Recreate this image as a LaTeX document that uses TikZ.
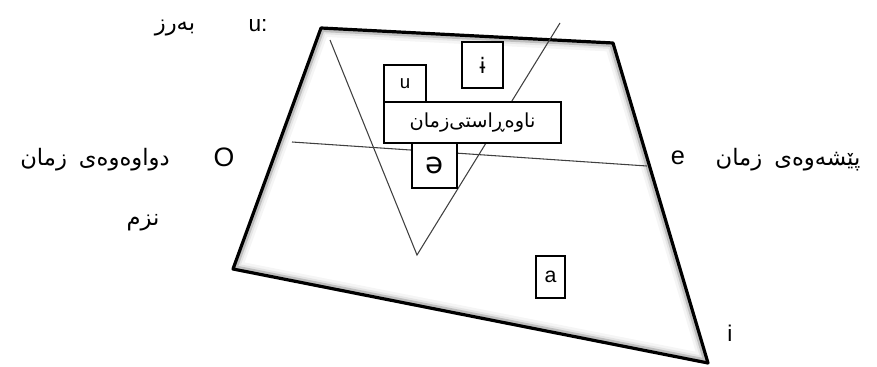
\documentclass[tikz,border=0pt]{standalone}
\usepackage{fontspec}
\setmainfont{Liberation Sans}
\newfontfamily\arabicfont[Script=Arabic]{DejaVu Sans}
\newfontfamily\dejavu{DejaVu Sans}
\TeXXeTstate=1
\begin{document}
\begin{tikzpicture}[x=0.75pt,y=-0.75pt,
  boxnode/.style={draw, fill=white, line width=0.8pt, inner sep=0pt},
  thinline/.style={draw=black!75, line width=0.8pt},
  lbl/.style={inner sep=0pt, text=black},
  ar/.style={inner sep=0pt, font=\arabicfont\fontsize{17}{19}\selectfont}]
\useasboundingbox (0,0) rectangle (877,367);
% quadrilateral corners
\coordinate (TL) at (321,28);
\coordinate (TR) at (613,43);
\coordinate (BR) at (708,363);
\coordinate (BL) at (233,269);
% inner shadow
\begin{scope}
  \clip (TL) -- (TR) -- (BR) -- (BL) -- cycle;
  \draw[line width=13pt, black!4, line join=round] (TL) -- (TR) -- (BR) -- (BL) -- cycle;
  \draw[line width=9pt, black!10, line join=round] (TL) -- (TR) -- (BR) -- (BL) -- cycle;
  \draw[line width=6pt, black!25, line join=round] (TL) -- (TR) -- (BR) -- (BL) -- cycle;
\end{scope}
\draw[line width=2.4pt, line join=round] (TL) -- (TR) -- (BR) -- (BL) -- cycle;
% V and horizontal line
\coordinate (VL) at (330,40);
\coordinate (VB) at (417,255);
\coordinate (VR) at (560,23);
\draw[thinline] (VL) -- (VB) -- (VR);
\coordinate (HL) at (292,142);
\coordinate (HR) at (647,166);
\draw[thinline] (HL) -- (HR);
% boxes
\node[boxnode, minimum width=31.5pt, minimum height=27.75pt, font=\fontsize{14}{16}\selectfont] (ubox) at (405,83.5) {u};
\node[boxnode, minimum width=30.75pt, minimum height=34.5pt, font=\dejavu\fontsize{16}{18}\selectfont] (ibox) at (482.5,65) {ɨ};
\node[boxnode, minimum width=132.75pt, minimum height=30.75pt, font=\arabicfont\fontsize{14.5}{16}\selectfont] (mid) at (472.5,122.5) {\beginR ناوەڕاستی‌زمان\endR};
\node[boxnode, minimum width=33.75pt, minimum height=33.75pt, font=\dejavu\fontsize{22}{24}\selectfont] (schwa) at (434.5,165.5) {ə};
\node[boxnode, minimum width=21.75pt, minimum height=31.5pt, font=\fontsize{16}{18}\selectfont] (abox) at (550.5,277) {a};
% outside labels
\node[lbl, font=\fontsize{17}{19}\selectfont] (ulong) at (258,26) {u:};
\node[ar] (high) at (175,28) {\beginR بەرز\endR};
\node[lbl, font=\fontsize{20}{22}\selectfont] (obk) at (224,157) {O};
\node[ar] (back) at (95,160) {\beginR دواوەوەی\hspace{9pt}زمان\endR};
\node[ar] (low) at (143,223) {\beginR نزم\endR};
\node[lbl, font=\fontsize{19}{21}\selectfont] (efr) at (678,158) {e};
\node[ar] (front) at (788,160) {\beginR پێشەوەی\hspace{9pt}زمان\endR};
\node[lbl, font=\fontsize{17}{19}\selectfont] (ifr) at (730,333) {i};
\end{tikzpicture}
\end{document}
